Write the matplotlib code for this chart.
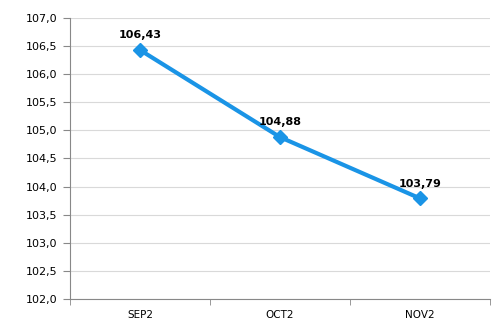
import matplotlib
matplotlib.use('Agg')
import matplotlib.pyplot as plt

months = ['SEP2', 'OCT2', 'NOV2']
values = [106.43, 104.88, 103.79]
yticks = [102.0, 102.5, 103.0, 103.5, 104.0, 104.5, 105.0, 105.5, 106.0, 106.5, 107.0]

line_color = '#1a94e6'

fig = plt.figure(figsize=(4.98, 3.27), dpi=100)
ax = fig.add_axes([0.1406, 0.0856, 0.8434, 0.8594])

x = list(range(len(months)))
ax.plot(x, values, color=line_color, linewidth=3, marker='D', markersize=7,
        zorder=3)
for xi, v in zip(x, values):
    ax.annotate('{:.2f}'.format(v).replace('.', ','), (xi, v),
                xytext=(0, 7), textcoords='offset points', ha='center',
                va='bottom', fontsize=8, fontweight='bold', color='black')

ax.set_xlim(-0.5, len(months) - 0.5)
ax.set_ylim(yticks[0], yticks[-1])
ax.set_yticks(yticks)
ax.set_yticklabels(['{:.1f}'.format(t).replace('.', ',') for t in yticks],
                   fontsize=8)
ax.set_xticks(x)
ax.set_xticklabels(months, fontsize=7.5)
ax.set_xticks([i - 0.5 for i in range(len(months) + 1)], minor=True)
ax.tick_params(axis='x', which='major', length=0, pad=8)
ax.tick_params(axis='x', which='minor', length=4, color='#888888')
ax.tick_params(axis='y', length=5, color='#888888', pad=4)

ax.grid(axis='y', color='#d9d9d9', linewidth=0.8)
ax.set_axisbelow(True)
for side in ('top', 'right'):
    ax.spines[side].set_visible(False)
for side in ('left', 'bottom'):
    ax.spines[side].set_color('#888888')
    ax.spines[side].set_linewidth(0.8)

fig.savefig('out.png', dpi=100)
